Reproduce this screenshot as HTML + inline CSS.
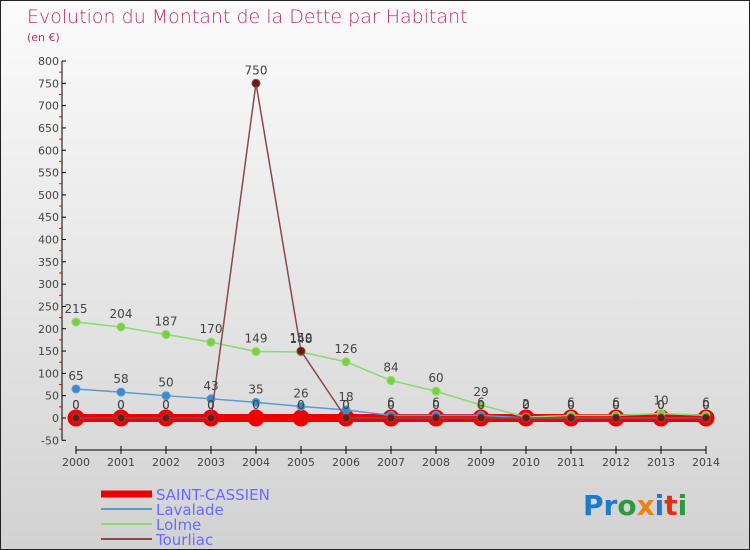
<!DOCTYPE html>
<html><head><meta charset="utf-8"><style>
body{margin:0}
#c{width:750px;height:550px;position:relative;background:linear-gradient(#fbfbfb,#d2d2d2);box-sizing:border-box;border:1px solid #222;overflow:hidden;font-family:"DejaVu Sans","Liberation Sans",sans-serif}
</style></head><body>
<div id="c">
<svg id="s" width="750" height="550" style="position:absolute;left:0;top:0">
<text x="26" y="22" font-size="19" fill="#c0306a" font-family="DejaVu Sans,sans-serif" font-weight="200">Evolution du Montant de la Dette par Habitant</text>
<text x="26" y="40" font-size="11" fill="#c0306a">(en €)</text>
<g id="ax"></g><g id="ser"></g><g id="lbl"></g>
<g>
<line x1="100" y1="493" x2="151" y2="493" stroke="#e00" stroke-width="7"/>
<text x="155" y="499" font-size="15" fill="#6a6aff">SAINT-CASSIEN</text>
<line x1="100" y1="508" x2="151" y2="508" stroke="#5a9ad0" stroke-width="2"/>
<text x="155" y="514" font-size="15" fill="#6a6aff">Lavalade</text>
<line x1="100" y1="523" x2="151" y2="523" stroke="#8ed870" stroke-width="2"/>
<text x="155" y="529" font-size="15" fill="#6a6aff">Lolme</text>
<line x1="100" y1="538" x2="151" y2="538" stroke="#8a4848" stroke-width="2"/>
<text x="155" y="544" font-size="15" fill="#6a6aff">Tourliac</text>
</g>
<g font-size="28" font-family="DejaVu Sans,sans-serif" font-weight="bold">
<text x="582" y="514"><tspan fill="#1a7ad0">Pr</tspan><tspan fill="#2a9a3a">o</tspan><tspan fill="#f08010">x</tspan><tspan fill="#1a7ad0">i</tspan><tspan fill="#e03010">t</tspan><tspan fill="#2a9a3a">i</tspan></text>
</g>
</svg>
</div>
<script>
const years=[2000,2001,2002,2003,2004,2005,2006,2007,2008,2009,2010,2011,2012,2013,2014];
const yTicks=[-50,0,50,100,150,200,250,300,350,400,450,500,550,600,650,700,750,800];
const saint=[0,0,0,0,0,0,0,0,0,0,0,0,0,0,0];
const lavalade=[65,58,50,43,35,26,18,6,6,6,0,0,0,0,0];
const lolme=[215,204,187,170,149,148,126,84,60,29,2,6,6,10,6];
const tourliac=[0,0,0,0,750,150,0,0,0,0,0,0,0,0,0];
const NS="http://www.w3.org/2000/svg";
const X=i=>75+i*45, Y=v=>417-v*0.44625;
function mk(t,a,p){const e=document.createElementNS(NS,t);for(const k in a)e.setAttribute(k,a[k]);p.appendChild(e);return e;}
const ax=document.getElementById('ax'),ser=document.getElementById('ser'),lbl=document.getElementById('lbl');
let e=mk('line',{x1:61,y1:Y(800),x2:61,y2:Y(-50),stroke:'#000'},ax);


yTicks.forEach(v=>{mk('line',{x1:61,x2:65,y1:Y(v),y2:Y(v),stroke:'#000'},ax);
 if(v<800)mk('line',{x1:58,x2:61,y1:Y(v+25),y2:Y(v+25),stroke:'#e00'},ax);
 const t=mk('text',{x:58,y:Y(v)+4,'text-anchor':'end','font-size':11,fill:'#444'},ax);t.textContent=v;
 
 });
e=mk('line',{x1:X(0),x2:X(14),y1:449,y2:449,stroke:'#000'},ax);


years.forEach((y,i)=>{mk('line',{x1:X(i),x2:X(i),y1:445,y2:453,stroke:'#000'},ax);
 const t=mk('text',{x:X(i),y:465,'text-anchor':'middle','font-size':11,fill:'#444'},ax);t.textContent=y;
 
 });
function series(d,name,col,w,r,dot,lab){
 const g=mk('g',{},ser);
 
 
 mk('polyline',{points:d.map((v,i)=>X(i)+','+Y(v)).join(' '),fill:'none',stroke:col,'stroke-width':w},g);
 d.forEach((v,i)=>{const c=mk('circle',{cx:X(i),cy:Y(v),r:r,fill:dot,stroke:col,'stroke-width':1},g);
  
  
  if(lab){const t=mk('text',{x:X(i),y:Y(v)-9,'text-anchor':'middle','font-size':12,fill:'#444'},lbl);t.textContent=v;
   
   }});
}
series(saint,'saint-cassien','#e00',8,8,'#e00',true);
series(lavalade,'lavalade','#5a9ad0',1.5,4,'#3a8ad0',true);
series(lolme,'lolme','#8ed870',1.5,4,'#7ad040',true);
series(tourliac,'tourliac','#8a4848',1.5,4,'#6a1a1a',true);
</script>
</body></html>
